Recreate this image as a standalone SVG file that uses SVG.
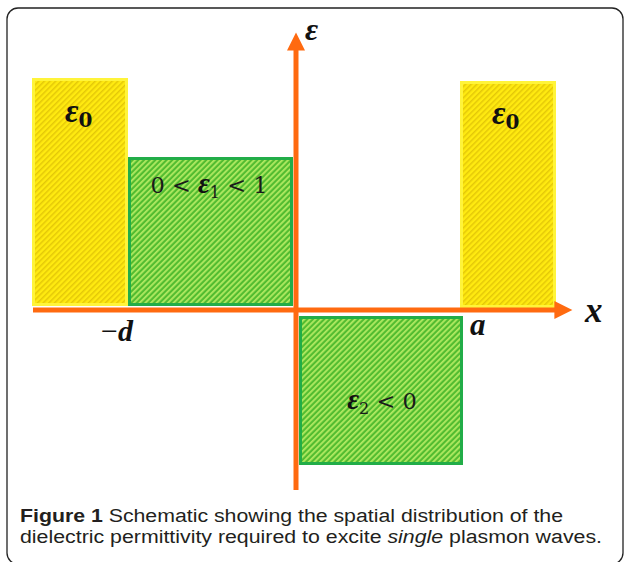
<svg xmlns="http://www.w3.org/2000/svg" width="624" height="562" viewBox="0 0 624 562">
<defs>
<pattern id="hy" width="4" height="4" patternUnits="userSpaceOnUse" patternTransform="rotate(45)">
<rect width="4" height="4" fill="#ffea10"/>
<rect width="1.5" height="4" fill="#e4c808"/>
</pattern>
<pattern id="hg" width="4" height="4" patternUnits="userSpaceOnUse" patternTransform="rotate(45)">
<rect width="4" height="4" fill="#52bc30"/>
<rect width="1.8" height="4" fill="#b2ea62"/>
</pattern>
<marker id="ah" viewBox="0 0 10 10" refX="2" refY="5" markerWidth="4" markerHeight="3.6" orient="auto" markerUnits="strokeWidth">
<path d="M0,0 L10,5 L0,10 z" fill="#ff6a10"/>
</marker>
</defs>
<style>
.yel{fill:url(#hy);stroke:#fff43a;stroke-width:3}
.grn{fill:url(#hg);stroke:#22ad48;stroke-width:3}
.ax{stroke:#ff6a10;stroke-width:5;fill:none}
.m{font-family:"Liberation Serif","DejaVu Serif",serif;font-weight:bold;font-style:italic;fill:#111}
.n{font-family:"DejaVu Serif","Liberation Serif",serif;fill:#1a1a1a}
.cap{font-family:"Liberation Sans","Arial",sans-serif;font-size:18px;fill:#231f20}
</style>
<rect x="7" y="8" width="616" height="556" rx="11" fill="#fff" stroke="#222" stroke-width="1.3"/>
<g id="eps0-left">
<rect class="yel" x="33.5" y="79.5" width="93" height="225"/>
<text class="m" x="65" y="122" font-size="33">ε<tspan font-size="20" dy="5" font-style="normal" font-family="DejaVu Serif" font-weight="bold">0</tspan></text>
</g>
<g id="eps1">
<rect class="grn" x="129.5" y="158.5" width="162" height="146"/>
<text x="209" y="193" text-anchor="middle" font-size="22.5" class="n"><tspan>0 &lt; </tspan><tspan class="m" font-size="29">ε</tspan><tspan font-size="16" dy="5">1</tspan><tspan dy="-5"> &lt; 1</tspan></text>
</g>
<g id="eps0-right">
<rect class="yel" x="461.5" y="82.5" width="93" height="224"/>
<text class="m" x="492" y="124" font-size="33">ε<tspan font-size="20" dy="5" font-style="normal" font-family="DejaVu Serif" font-weight="bold">0</tspan></text>
</g>
<g id="eps2">
<rect class="grn" x="300.5" y="317.5" width="161" height="146"/>
<text x="382" y="409" text-anchor="middle" font-size="22.5" class="n"><tspan class="m" font-size="29">ε</tspan><tspan font-size="16" dy="5">2</tspan><tspan dy="-5"> &lt; 0</tspan></text>
</g>
<g id="axes">
<line class="ax" x1="33" y1="310" x2="558" y2="310" marker-end="url(#ah)"/>
<line class="ax" x1="296" y1="490" x2="296" y2="47" marker-end="url(#ah)"/>
</g>
<g id="labels">
<text class="m" x="305" y="40" font-size="32">ε</text>
<text class="m" x="585" y="322" font-size="35">x</text>
<text class="m" x="470" y="335" font-size="31">a</text>
<text x="101" y="341" font-size="30" class="m"><tspan font-style="normal" font-weight="normal">−</tspan>d</text>
</g>
<g id="caption">
<text class="cap" x="20" y="522" textLength="543" lengthAdjust="spacingAndGlyphs"><tspan font-weight="bold">Figure 1</tspan> Schematic showing the spatial distribution of the</text>
<text class="cap" x="20" y="543" textLength="582" lengthAdjust="spacingAndGlyphs">dielectric permittivity required to excite <tspan font-style="italic">single</tspan> plasmon waves.</text>
</g>
</svg>
